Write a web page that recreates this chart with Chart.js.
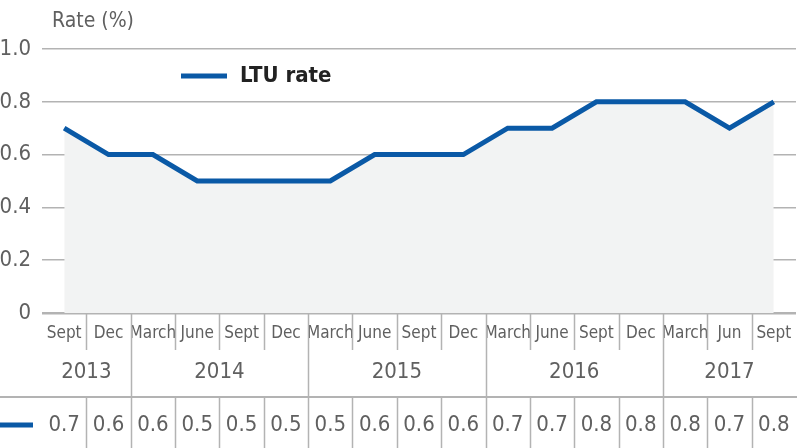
<!DOCTYPE html>
<html>
<head>
<meta charset="utf-8">
<script src="https://cdn.jsdelivr.net/npm/chart.js@4.4.1/dist/chart.umd.min.js"></script>
<style>
  html, body { margin: 0; padding: 0; background: #fff; }
  #wrap { width: 797px; height: 448px; position: relative; }
</style>
</head>
<body>
<div id="wrap"><canvas id="chart"></canvas></div>
<script>
// Данные графика
const months = ['Sept', 'Dec', 'March', 'June', 'Sept', 'Dec', 'March', 'June', 'Sept', 'Dec', 'March', 'June', 'Sept', 'Dec', 'March', 'Jun', 'Sept'];
const years = ['2013', '2013', '2014', '2014', '2014', '2014', '2015', '2015', '2015', '2015', '2016', '2016', '2016', '2016', '2017', '2017', '2017'];
const rates = [0.7, 0.6, 0.6, 0.5, 0.5, 0.5, 0.5, 0.6, 0.6, 0.6, 0.7, 0.7, 0.8, 0.8, 0.8, 0.7, 0.8];
const yTicks = [0, 0.2, 0.4, 0.6, 0.8, 1.0];
const seriesName = 'LTU rate';
const axisTitle = 'Rate (%)';

const FONT = "'Liberation Sans Narrow', 'DejaVu Sans Condensed', 'Roboto', sans-serif";
const BLUE = '#0a59a6';
const GRID = '#b3b3b3';
const TEXT = '#606060';

// Подписи оси X, годы и таблица значений
const extras = {
    id: 'extras',
    afterDraw(chart) {
        const ctx = chart.ctx;
        const x = chart.scales.x;
        const area = chart.chartArea;
        const n = months.length;
        const px = i => x.getPixelForValue(i);
        const edge = i => {
            if (i <= 0) return area.left;
            if (i >= n) return area.right;
            return (px(i - 1) + px(i)) / 2;
        };
        const yMonth = area.bottom + 21;
        const yMonthSep = area.bottom + 37;
        const yYear = area.bottom + 59;
        const yTable = 397;
        const yRow = 425;

        ctx.save();
        ctx.textAlign = 'center';
        ctx.textBaseline = 'middle';

        // подписи месяцев
        ctx.fillStyle = TEXT;
        ctx.font = "17px " + FONT;
        months.forEach((m, i) => ctx.fillText(m, px(i), yMonth));

        // разделители
        ctx.strokeStyle = GRID;
        ctx.lineWidth = 1.5;
        for (let i = 1; i < n; i++) {
            const e = Math.round(edge(i)) + 0.5;
            const yearBreak = years[i] !== years[i - 1];
            ctx.beginPath();
            ctx.moveTo(e, area.bottom);
            ctx.lineTo(e, yearBreak ? yTable : yMonthSep);
            ctx.stroke();
            ctx.beginPath();
            ctx.moveTo(e, yTable);
            ctx.lineTo(e, chart.height);
            ctx.stroke();
        }

        // годы
        ctx.font = "22px " + FONT;
        let start = 0;
        for (let i = 1; i <= n; i++) {
            if (i === n || years[i] !== years[start]) {
                ctx.fillText(years[start], (edge(start) + edge(i)) / 2, yYear);
                start = i;
            }
        }

        // горизонтальная линия таблицы
        ctx.lineWidth = 2;
        ctx.beginPath();
        ctx.moveTo(0, yTable);
        ctx.lineTo(chart.width, yTable);
        ctx.stroke();

        // значения
        ctx.font = "22px " + FONT;
        rates.forEach((v, i) => ctx.fillText(v.toFixed(1), px(i), yRow));

        // маркер серии в таблице
        ctx.strokeStyle = BLUE;
        ctx.lineWidth = 5;
        ctx.beginPath();
        ctx.moveTo(0, yRow);
        ctx.lineTo(33, yRow);
        ctx.stroke();

        // легенда внутри графика
        ctx.beginPath();
        ctx.moveTo(181, 76);
        ctx.lineTo(227, 76);
        ctx.stroke();
        ctx.textAlign = 'left';
        ctx.fillStyle = '#222';
        ctx.font = "bold 22px " + FONT;
        ctx.fillText(seriesName, 240, 76);

        // заголовок оси
        ctx.fillStyle = TEXT;
        ctx.font = "21px " + FONT;
        ctx.fillText(axisTitle, 52, 22);
        ctx.restore();
    }
};

new Chart(document.getElementById('chart'), {
    type: 'line',
    data: {
        labels: months,
        datasets: [{
            label: seriesName,
            data: rates,
            borderColor: BLUE,
            borderWidth: 5,
            pointRadius: 0,
            tension: 0,
            borderJoinStyle: 'miter',
            fill: { target: 'origin', above: '#f2f3f3' }
        }]
    },
    options: {
        responsive: true,
        maintainAspectRatio: false,
        animation: false,
        layout: { padding: { top: 49, right: 1, bottom: 135, left: 0 } },
        plugins: { legend: { display: false }, tooltip: { enabled: false } },
        scales: {
            x: {
                type: 'category',
                offset: true,
                afterFit: s => { s.height = 0; },
                grid: { display: false },
                border: { display: false },
                ticks: { display: false }
            },
            y: {
                min: 0,
                max: 1,
                afterFit: s => { s.width = 42; },
                afterBuildTicks: s => { s.ticks = yTicks.map(v => ({ value: v })); },
                grid: {
                    color: GRID,
                    lineWidth: c => c.tick && c.tick.value === 0 ? 2.5 : 1.5,
                    drawTicks: false
                },
                border: { display: false },
                ticks: {
                    padding: 11,
                    color: TEXT,
                    font: { family: FONT, size: 22 },
                    callback: v => v === 0 ? '0' : v.toFixed(1)
                }
            }
        }
    },
    plugins: [extras]
});
</script>
</body>
</html>
